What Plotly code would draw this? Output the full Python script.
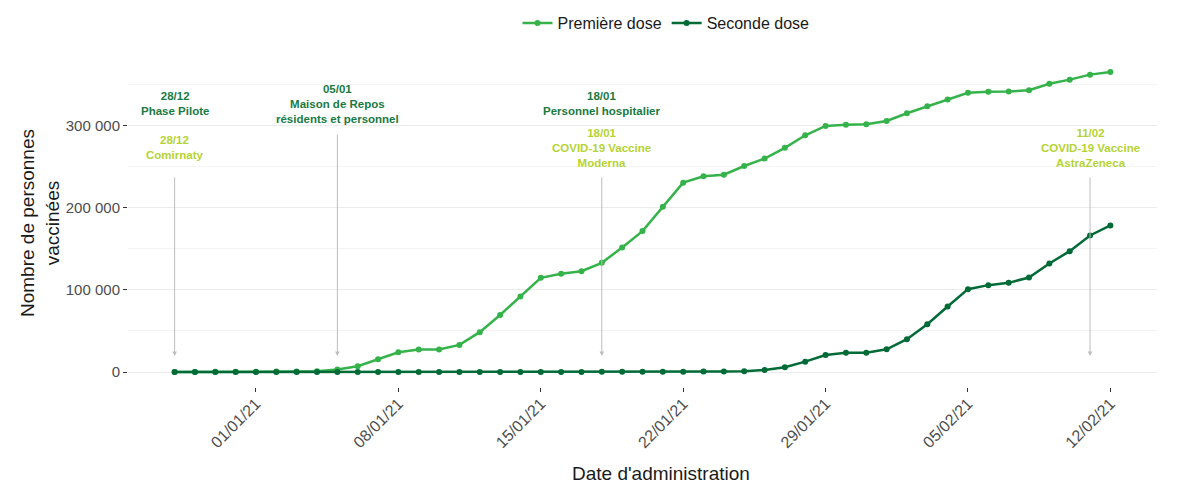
import plotly.graph_objects as go
import pandas as pd

dates = pd.date_range("2020-12-28", "2021-02-12", freq="D")

premiere_dose = [0, 0, 200, 300, 400, 500, 600, 1000, 3000, 7000, 15500, 24000, 27500, 27500, 33000,
                 48500, 69500, 92000, 114700, 119600, 122800, 133000, 151700, 171600, 201300,
                 230600, 238300, 240300, 250900, 260000, 273000, 288300, 299700, 301300, 301700,
                 305800, 315200, 323700, 331900, 340000, 341200, 341600, 343200, 351000, 356100,
                 362200, 365400]
seconde_dose = [0, 0, 0, 0, 0, 0, 0, 0, 0, 0, 0, 0, 0, 0, 0,
                0, 0, 0, 0, 100, 100, 200, 200, 300, 300,
                400, 500, 600, 1000, 2400, 5700, 12600, 20700, 23500, 23500,
                27600, 39900, 58200, 79700, 100900, 105800, 108600, 115100, 132100, 147200,
                166300, 178500]

events_dark = [("2020-12-28", "28/12<br>Phase Pilote"),
               ("2021-01-05", "05/01<br>Maison de Repos<br>résidents et personnel"),
               ("2021-01-18", "18/01<br>Personnel hospitalier")]
events_lime = [("2020-12-28", "28/12<br>Comirnaty"),
               ("2021-01-18", "18/01<br>COVID-19 Vaccine<br>Moderna"),
               ("2021-02-11", "11/02<br>COVID-19 Vaccine<br>AstraZeneca")]
arrow_dates = ["2020-12-28", "2021-01-05", "2021-01-18", "2021-02-11"]
arrow_tops = [239000, 291000, 239000, 239000]

tick_dates = ["2021-01-01", "2021-01-08", "2021-01-15", "2021-01-22", "2021-01-29", "2021-02-05", "2021-02-12"]
tick_labels = ["01/01/21", "08/01/21", "15/01/21", "22/01/21", "29/01/21", "05/02/21", "12/02/21"]

c1 = "#35b34a"
c2 = "#006b36"
dark_txt = "#1a7a42"
lime_txt = "#b5d334"
FONT = "Liberation Sans, Arial"

fig = go.Figure()
fig.add_trace(go.Scatter(x=dates, y=premiere_dose, mode="lines+markers",
                         name="Première dose", line=dict(color=c1, width=2.5),
                         marker=dict(color=c1, size=6)))
fig.add_trace(go.Scatter(x=dates, y=seconde_dose, mode="lines+markers",
                         name="Seconde dose", line=dict(color=c2, width=2.5),
                         marker=dict(color=c2, size=6)))

for d, top in zip(arrow_dates, arrow_tops):
    fig.add_annotation(x=d, y=19500, ax=d, ay=top, xref="x", yref="y", axref="x", ayref="y",
                       showarrow=True, arrowhead=2, arrowsize=0.9, arrowwidth=1,
                       arrowcolor="#bdbdbd", text="")

for d, t in events_dark:
    fig.add_annotation(x=d, y=327000, text="<b>" + t + "</b>", showarrow=False, yanchor="middle",
                       font=dict(color=dark_txt, size=11.5, family=FONT))
for d, t in events_lime:
    fig.add_annotation(x=d, y=273000, text="<b>" + t + "</b>", showarrow=False, yanchor="middle",
                       font=dict(color=lime_txt, size=11.5, family=FONT))

# axis titles (paper coords relative to the panel)
fig.add_annotation(text="Date d'administration", xref="paper", yref="paper",
                   x=(661 - 128) / 1029, y=-(473 - 387) / 330, xanchor="center", yanchor="middle",
                   showarrow=False, font=dict(size=19, color="#1a1a1a", family=FONT))
fig.add_annotation(text="Nombre de personnes<br>vaccinées", xref="paper", yref="paper",
                   x=-(128 - 40) / 1029, y=(387 - 223) / 330, xanchor="center", yanchor="middle",
                   textangle=-90, showarrow=False, font=dict(size=19, color="#1a1a1a", family=FONT))

fig.update_layout(
    width=1178, height=478,
    margin=dict(l=120, r=29, t=49, b=99, autoexpand=False),
    paper_bgcolor="white", plot_bgcolor="white",
    font=dict(family=FONT, color="#4d4d4d"),
    showlegend=True,
    legend=dict(orientation="h", x=(666 - 128) / 1029, xanchor="center", y=(387 - 23) / 330,
                yanchor="middle", font=dict(size=16, color="#1a1a1a"), itemwidth=30),
    xaxis=dict(range=[pd.Timestamp("2020-12-28") - pd.Timedelta(hours=55),
                      pd.Timestamp("2021-02-12") + pd.Timedelta(hours=55)],
               tickvals=tick_dates, ticktext=tick_labels, tickangle=-45, automargin=False,
               tickfont=dict(size=16, color="#4d4d4d"), showgrid=False, zeroline=False,
               ticklabelstandoff=-4,
               ticks="outside", ticklen=4, tickcolor="#333333", showline=False),
    yaxis=dict(range=[-18270, 383670], tickvals=[0, 100000, 200000, 300000],
               ticktext=["0", "100 000", "200 000", "300 000"], automargin=False,
               tickfont=dict(size=15, color="#4d4d4d"),
               showgrid=True, gridcolor="#ebebeb", gridwidth=1.2, zeroline=False,
               minor=dict(tickvals=[50000, 150000, 250000, 350000], showgrid=True,
                          gridcolor="#f3f3f3", gridwidth=0.8),
               ticks="outside", ticklen=4, tickcolor="#333333"),
)

fig.write_html("out.html")
